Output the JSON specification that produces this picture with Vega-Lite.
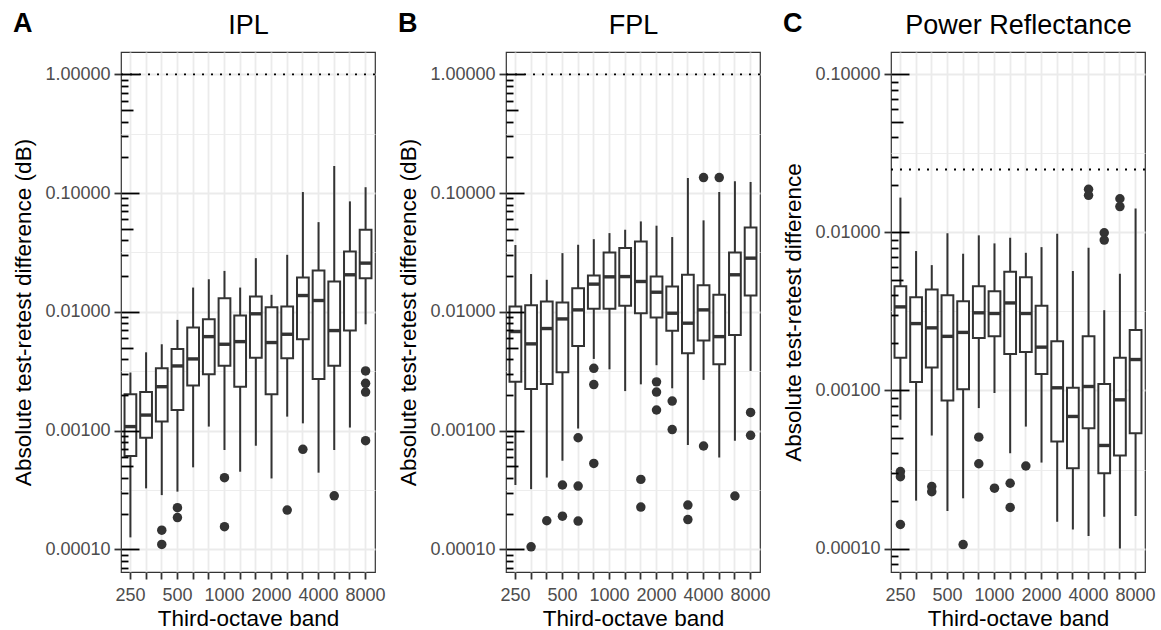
{
  "$schema": "https://vega.github.io/schema/vega-lite/v6.json",
  "background": "white",
  "padding": {"left": 12, "top": 9, "right": 0, "bottom": 0},
  "spacing": 11,
  "config": {
    "font": "Liberation Sans",
    "view": {"stroke": "#333333", "strokeWidth": 1.2},
    "axis": {"labelFont": "Liberation Sans", "titleFont": "Liberation Sans"},
    "title": {"font": "Liberation Sans"}
  },
  "datasets": {
    "stats": [
      {"panel": "IPL", "band": "250", "lo": 0.000126, "q1": 0.00061, "med": 0.00108, "q3": 0.00202, "hi": 0.00308},
      {"panel": "IPL", "band": "315", "lo": 0.000326, "q1": 0.00087, "med": 0.00135, "q3": 0.00211, "hi": 0.00456},
      {"panel": "IPL", "band": "400", "lo": 0.000286, "q1": 0.00119, "med": 0.00234, "q3": 0.00334, "hi": 0.00533},
      {"panel": "IPL", "band": "500", "lo": 0.000306, "q1": 0.00149, "med": 0.0035, "q3": 0.00487, "hi": 0.00855},
      {"panel": "IPL", "band": "630", "lo": 0.00049, "q1": 0.00239, "med": 0.00401, "q3": 0.00737, "hi": 0.016},
      {"panel": "IPL", "band": "800", "lo": 0.00108, "q1": 0.00298, "med": 0.00618, "q3": 0.00866, "hi": 0.0188},
      {"panel": "IPL", "band": "1000", "lo": 0.000686, "q1": 0.00352, "med": 0.00533, "q3": 0.013, "hi": 0.0221},
      {"panel": "IPL", "band": "1250", "lo": 0.00045, "q1": 0.00234, "med": 0.00561, "q3": 0.00931, "hi": 0.016},
      {"panel": "IPL", "band": "1600", "lo": 0.000745, "q1": 0.00411, "med": 0.00962, "q3": 0.01345, "hi": 0.0283},
      {"panel": "IPL", "band": "2000", "lo": 0.000395, "q1": 0.00202, "med": 0.00551, "q3": 0.01094, "hi": 0.0139},
      {"panel": "IPL", "band": "2500", "lo": 0.00131, "q1": 0.00406, "med": 0.00647, "q3": 0.01107, "hi": 0.0302},
      {"panel": "IPL", "band": "3150", "lo": 0.00115, "q1": 0.00587, "med": 0.01371, "q3": 0.01945, "hi": 0.102},
      {"panel": "IPL", "band": "4000", "lo": 0.000442, "q1": 0.00272, "med": 0.01245, "q3": 0.0223, "hi": 0.0569},
      {"panel": "IPL", "band": "5000", "lo": 0.000686, "q1": 0.00352, "med": 0.00695, "q3": 0.018, "hi": 0.169},
      {"panel": "IPL", "band": "6300", "lo": 0.00106, "q1": 0.00695, "med": 0.0205, "q3": 0.0322, "hi": 0.0851},
      {"panel": "IPL", "band": "8000", "lo": 0.00785, "q1": 0.0192, "med": 0.0257, "q3": 0.0491, "hi": 0.112},
      {"panel": "FPL", "band": "250", "lo": 0.000348, "q1": 0.00257, "med": 0.00682, "q3": 0.01107, "hi": 0.0365},
      {"panel": "FPL", "band": "315", "lo": 0.000321, "q1": 0.00224, "med": 0.00537, "q3": 0.01137, "hi": 0.0208},
      {"panel": "FPL", "band": "400", "lo": 0.000402, "q1": 0.00247, "med": 0.00723, "q3": 0.01222, "hi": 0.0186},
      {"panel": "FPL", "band": "500", "lo": 0.000557, "q1": 0.0031, "med": 0.00871, "q3": 0.01198, "hi": 0.0312},
      {"panel": "FPL", "band": "630", "lo": 0.00104, "q1": 0.00516, "med": 0.01038, "q3": 0.01582, "hi": 0.0367},
      {"panel": "FPL", "band": "800", "lo": 0.00401, "q1": 0.01059, "med": 0.0171, "q3": 0.0202, "hi": 0.0409},
      {"panel": "FPL", "band": "1000", "lo": 0.00328, "q1": 0.01059, "med": 0.0197, "q3": 0.0316, "hi": 0.046},
      {"panel": "FPL", "band": "1250", "lo": 0.00215, "q1": 0.01122, "med": 0.0198, "q3": 0.0344, "hi": 0.0491},
      {"panel": "FPL", "band": "1600", "lo": 0.00245, "q1": 0.00973, "med": 0.018, "q3": 0.0391, "hi": 0.0577},
      {"panel": "FPL", "band": "2000", "lo": 0.00355, "q1": 0.00895, "med": 0.01462, "q3": 0.0198, "hi": 0.0531},
      {"panel": "FPL", "band": "2500", "lo": 0.00227, "q1": 0.00691, "med": 0.00973, "q3": 0.0163, "hi": 0.0426},
      {"panel": "FPL", "band": "3150", "lo": 0.000755, "q1": 0.00448, "med": 0.00802, "q3": 0.0205, "hi": 0.134},
      {"panel": "FPL", "band": "4000", "lo": 0.00267, "q1": 0.00573, "med": 0.01038, "q3": 0.0167, "hi": 0.0589},
      {"panel": "FPL", "band": "5000", "lo": 0.000594, "q1": 0.00362, "med": 0.00618, "q3": 0.0139, "hi": 0.102},
      {"panel": "FPL", "band": "6300", "lo": 0.000822, "q1": 0.00639, "med": 0.0205, "q3": 0.0316, "hi": 0.126},
      {"panel": "FPL", "band": "8000", "lo": 0.00318, "q1": 0.01371, "med": 0.0283, "q3": 0.0514, "hi": 0.124},
      {"panel": "PR", "band": "250", "lo": 0.000653, "q1": 0.00161, "med": 0.00338, "q3": 0.00457, "hi": 0.0166},
      {"panel": "PR", "band": "315", "lo": 0.000201, "q1": 0.00113, "med": 0.00265, "q3": 0.00389, "hi": 0.00762},
      {"panel": "PR", "band": "400", "lo": 0.000519, "q1": 0.0014, "med": 0.00249, "q3": 0.00435, "hi": 0.00621},
      {"panel": "PR", "band": "500", "lo": 0.000173, "q1": 0.000865, "med": 0.0022, "q3": 0.00401, "hi": 0.00986},
      {"panel": "PR", "band": "630", "lo": 0.000208, "q1": 0.00102, "med": 0.00233, "q3": 0.00367, "hi": 0.00733},
      {"panel": "PR", "band": "800", "lo": 0.000774, "q1": 0.00215, "med": 0.0031, "q3": 0.00457, "hi": 0.00958},
      {"panel": "PR", "band": "1000", "lo": 0.000964, "q1": 0.0022, "med": 0.00307, "q3": 0.00425, "hi": 0.00852},
      {"panel": "PR", "band": "1250", "lo": 0.000401, "q1": 0.0017, "med": 0.00358, "q3": 0.00564, "hi": 0.00925},
      {"panel": "PR", "band": "1600", "lo": 0.000591, "q1": 0.00175, "med": 0.00307, "q3": 0.00521, "hi": 0.00743},
      {"panel": "PR", "band": "2000", "lo": 0.00035, "q1": 0.00127, "med": 0.00188, "q3": 0.00344, "hi": 0.00807},
      {"panel": "PR", "band": "2500", "lo": 0.000148, "q1": 0.000475, "med": 0.00104, "q3": 0.00205, "hi": 0.00981},
      {"panel": "PR", "band": "3150", "lo": 0.000132, "q1": 0.000322, "med": 0.000685, "q3": 0.00104, "hi": 0.00569},
      {"panel": "PR", "band": "4000", "lo": 0.00012, "q1": 0.000578, "med": 0.00106, "q3": 0.0022, "hi": 0.008},
      {"panel": "PR", "band": "5000", "lo": 0.000159, "q1": 0.0003, "med": 0.000449, "q3": 0.0011, "hi": 0.00322},
      {"panel": "PR", "band": "6300", "lo": 0.0001, "q1": 0.000388, "med": 0.000873, "q3": 0.00161, "hi": 0.00547},
      {"panel": "PR", "band": "8000", "lo": 0.000161, "q1": 0.000537, "med": 0.00157, "q3": 0.00241, "hi": 0.01418}
    ],
    "outliers": [
      {"panel": "IPL", "band": "400", "value": 0.000145},
      {"panel": "IPL", "band": "400", "value": 0.00011},
      {"panel": "IPL", "band": "500", "value": 0.000224},
      {"panel": "IPL", "band": "500", "value": 0.000185},
      {"panel": "IPL", "band": "1000", "value": 0.000401},
      {"panel": "IPL", "band": "1000", "value": 0.000155},
      {"panel": "IPL", "band": "2500", "value": 0.000214},
      {"panel": "IPL", "band": "3150", "value": 0.000695},
      {"panel": "IPL", "band": "5000", "value": 0.000282},
      {"panel": "IPL", "band": "8000", "value": 0.00318},
      {"panel": "IPL", "band": "8000", "value": 0.0025},
      {"panel": "IPL", "band": "8000", "value": 0.00211},
      {"panel": "IPL", "band": "8000", "value": 0.000822},
      {"panel": "FPL", "band": "315", "value": 0.000105},
      {"panel": "FPL", "band": "400", "value": 0.000174},
      {"panel": "FPL", "band": "500", "value": 0.000348},
      {"panel": "FPL", "band": "500", "value": 0.00019},
      {"panel": "FPL", "band": "630", "value": 0.00087},
      {"panel": "FPL", "band": "630", "value": 0.000341},
      {"panel": "FPL", "band": "630", "value": 0.000173},
      {"panel": "FPL", "band": "800", "value": 0.00334},
      {"panel": "FPL", "band": "800", "value": 0.00244},
      {"panel": "FPL", "band": "800", "value": 0.000529},
      {"panel": "FPL", "band": "1600", "value": 0.000388},
      {"panel": "FPL", "band": "1600", "value": 0.000227},
      {"panel": "FPL", "band": "2000", "value": 0.00257},
      {"panel": "FPL", "band": "2000", "value": 0.00211},
      {"panel": "FPL", "band": "2000", "value": 0.00149},
      {"panel": "FPL", "band": "2500", "value": 0.00177},
      {"panel": "FPL", "band": "2500", "value": 0.00102},
      {"panel": "FPL", "band": "3150", "value": 0.000236},
      {"panel": "FPL", "band": "3150", "value": 0.000178},
      {"panel": "FPL", "band": "4000", "value": 0.135},
      {"panel": "FPL", "band": "4000", "value": 0.000741},
      {"panel": "FPL", "band": "5000", "value": 0.135},
      {"panel": "FPL", "band": "6300", "value": 0.000281},
      {"panel": "FPL", "band": "8000", "value": 0.00142},
      {"panel": "FPL", "band": "8000", "value": 0.000912},
      {"panel": "PR", "band": "250", "value": 0.000307},
      {"panel": "PR", "band": "250", "value": 0.000285},
      {"panel": "PR", "band": "250", "value": 0.000142},
      {"panel": "PR", "band": "400", "value": 0.000247},
      {"panel": "PR", "band": "400", "value": 0.000229},
      {"panel": "PR", "band": "630", "value": 0.000106},
      {"panel": "PR", "band": "800", "value": 0.000507},
      {"panel": "PR", "band": "800", "value": 0.000344},
      {"panel": "PR", "band": "1000", "value": 0.000241},
      {"panel": "PR", "band": "1250", "value": 0.000259},
      {"panel": "PR", "band": "1250", "value": 0.000182},
      {"panel": "PR", "band": "1600", "value": 0.000333},
      {"panel": "PR", "band": "4000", "value": 0.01874},
      {"panel": "PR", "band": "4000", "value": 0.01716},
      {"panel": "PR", "band": "5000", "value": 0.00995},
      {"panel": "PR", "band": "5000", "value": 0.00894},
      {"panel": "PR", "band": "6300", "value": 0.01633},
      {"panel": "PR", "band": "6300", "value": 0.01456}
    ],
    "refs": [
      {"panel": "IPL", "ref": 1},
      {"panel": "FPL", "ref": 1},
      {"panel": "PR", "ref": 0.025}
    ]
  },
  "hconcat": [
    {
      "title": {"text": "A", "anchor": "start", "frame": "bounds", "fontSize": 27, "fontWeight": "bold", "color": "black", "offset": -27},
      "width": 254, "height": 520,
      "resolve": {"axis": {"x": "independent", "y": "independent"}},
      "layer": [
        {
          "data": {"name": "stats"}, "transform": [{"filter": "datum.panel === 'IPL'"}],
          "mark": {"type": "rule", "color": "#333333", "strokeWidth": 2},
          "encoding": {
            "x": {"field": "band", "type": "nominal", "scale": {"type": "band", "domain": ["250","315","400","500","630","800","1000","1250","1600","2000","2500","3150","4000","5000","6300","8000"], "paddingInner": 0.25, "paddingOuter": 0.225},
              "axis": {"orient": "bottom", "title": "Third-octave band", "labelExpr": "indexof(['250','500','1000','2000','4000','8000'], datum.label) >= 0 ? datum.label : ''", "labelAngle": 0, "labelFontSize": 18, "labelColor": "#4D4D4D", "labelPadding": 7, "tickSize": 7, "tickColor": "#333333", "tickWidth": 1.8, "domain": false, "grid": true, "gridColor": "#EBEBEB", "gridWidth": 1.8, "titleFontSize": 22.5, "titleFontWeight": "normal", "titleColor": "black", "titlePadding": 3, "zindex": 0}},
            "y": {"field": "lo", "type": "quantitative", "scale": {"type": "log", "domain": [0.0000644, 1.541], "nice": false},
              "axis": {"orient": "left", "values": [0.0001, 0.001, 0.01, 0.1, 1], "format": ".5f", "title": "Absolute test-retest difference (dB)", "grid": true, "gridColor": "#EBEBEB", "gridWidth": 1.8, "domain": false, "tickColor": "#333333", "tickSize": 7, "tickWidth": 1.8, "labelColor": "#4D4D4D", "labelFontSize": 18, "labelPadding": 4, "titleFontSize": 22.5, "titleFontWeight": "normal", "titleColor": "black", "titlePadding": 9, "zindex": 0}},
            "y2": {"field": "hi"}
          }
        },
        {
          "data": {"name": "stats"}, "transform": [{"filter": "datum.panel === 'IPL'"}],
          "mark": {"type": "bar", "fill": "white", "stroke": "#333333", "strokeWidth": 2},
          "encoding": {
            "x": {"field": "band", "type": "nominal", "axis": null},
            "y": {"field": "q1", "type": "quantitative", "axis": {"orient": "left", "values": [0.316228, 0.0316228, 0.00316228, 0.000316228], "grid": true, "gridColor": "#EBEBEB", "gridWidth": 0.9, "ticks": false, "labels": false, "domain": false, "title": null, "zindex": 0}},
            "y2": {"field": "q3"}
          }
        },
        {
          "data": {"name": "stats"}, "transform": [{"filter": "datum.panel === 'IPL'"}],
          "mark": {"type": "tick", "orient": "horizontal", "color": "#333333", "thickness": 3.4, "size": 12, "opacity": 1},
          "encoding": {
            "x": {"field": "band", "type": "nominal", "axis": null},
            "y": {"field": "med", "type": "quantitative", "axis": {"orient": "left", "values": [0.0001, 0.001, 0.01, 0.1, 1], "tickSize": -18, "tickColor": "black", "tickWidth": 1.8, "labels": false, "domain": false, "grid": false, "title": null, "zindex": 1}}
          }
        },
        {
          "data": {"name": "outliers"}, "transform": [{"filter": "datum.panel === 'IPL'"}],
          "mark": {"type": "point", "filled": true, "color": "#333333", "opacity": 1, "size": 90},
          "encoding": {
            "x": {"field": "band", "type": "nominal", "axis": {"orient": "top", "title": "IPL", "labels": false, "ticks": false, "domain": false, "grid": false, "titleFontSize": 27, "titleFontWeight": "normal", "titleColor": "black", "titlePadding": 13}},
            "y": {"field": "value", "type": "quantitative", "axis": {"orient": "left", "values": [0.0005, 0.005, 0.05, 0.5], "tickSize": -12, "tickColor": "black", "tickWidth": 1.8, "labels": false, "domain": false, "grid": false, "title": null, "zindex": 1}}
          }
        },
        {
          "data": {"name": "refs"}, "transform": [{"filter": "datum.panel === 'IPL'"}],
          "mark": {"type": "rule", "color": "black", "strokeDash": [2, 7], "strokeWidth": 1.8},
          "encoding": {
            "y": {"field": "ref", "type": "quantitative", "axis": {"orient": "left", "values": [0.00007, 0.00008, 0.00009, 0.0002, 0.0003, 0.0004, 0.0006, 0.0007, 0.0008, 0.0009, 0.002, 0.003, 0.004, 0.006, 0.007, 0.008, 0.009, 0.02, 0.03, 0.04, 0.06, 0.07, 0.08, 0.09, 0.2, 0.3, 0.4, 0.6, 0.7, 0.8, 0.9], "tickSize": -7, "tickColor": "black", "tickWidth": 1.8, "labels": false, "domain": false, "grid": false, "title": null, "zindex": 1}}
          }
        }
      ]
    },
    {
      "title": {"text": "B", "anchor": "start", "frame": "bounds", "fontSize": 27, "fontWeight": "bold", "color": "black", "offset": -27},
      "width": 254, "height": 520,
      "resolve": {"axis": {"x": "independent", "y": "independent"}},
      "layer": [
        {
          "data": {"name": "stats"}, "transform": [{"filter": "datum.panel === 'FPL'"}],
          "mark": {"type": "rule", "color": "#333333", "strokeWidth": 2},
          "encoding": {
            "x": {"field": "band", "type": "nominal", "scale": {"type": "band", "domain": ["250","315","400","500","630","800","1000","1250","1600","2000","2500","3150","4000","5000","6300","8000"], "paddingInner": 0.25, "paddingOuter": 0.225},
              "axis": {"orient": "bottom", "title": "Third-octave band", "labelExpr": "indexof(['250','500','1000','2000','4000','8000'], datum.label) >= 0 ? datum.label : ''", "labelAngle": 0, "labelFontSize": 18, "labelColor": "#4D4D4D", "labelPadding": 7, "tickSize": 7, "tickColor": "#333333", "tickWidth": 1.8, "domain": false, "grid": true, "gridColor": "#EBEBEB", "gridWidth": 1.8, "titleFontSize": 22.5, "titleFontWeight": "normal", "titleColor": "black", "titlePadding": 3, "zindex": 0}},
            "y": {"field": "lo", "type": "quantitative", "scale": {"type": "log", "domain": [0.0000644, 1.541], "nice": false},
              "axis": {"orient": "left", "values": [0.0001, 0.001, 0.01, 0.1, 1], "format": ".5f", "title": "Absolute test-retest difference (dB)", "grid": true, "gridColor": "#EBEBEB", "gridWidth": 1.8, "domain": false, "tickColor": "#333333", "tickSize": 7, "tickWidth": 1.8, "labelColor": "#4D4D4D", "labelFontSize": 18, "labelPadding": 4, "titleFontSize": 22.5, "titleFontWeight": "normal", "titleColor": "black", "titlePadding": 9, "zindex": 0}},
            "y2": {"field": "hi"}
          }
        },
        {
          "data": {"name": "stats"}, "transform": [{"filter": "datum.panel === 'FPL'"}],
          "mark": {"type": "bar", "fill": "white", "stroke": "#333333", "strokeWidth": 2},
          "encoding": {
            "x": {"field": "band", "type": "nominal", "axis": null},
            "y": {"field": "q1", "type": "quantitative", "axis": {"orient": "left", "values": [0.316228, 0.0316228, 0.00316228, 0.000316228], "grid": true, "gridColor": "#EBEBEB", "gridWidth": 0.9, "ticks": false, "labels": false, "domain": false, "title": null, "zindex": 0}},
            "y2": {"field": "q3"}
          }
        },
        {
          "data": {"name": "stats"}, "transform": [{"filter": "datum.panel === 'FPL'"}],
          "mark": {"type": "tick", "orient": "horizontal", "color": "#333333", "thickness": 3.4, "size": 12, "opacity": 1},
          "encoding": {
            "x": {"field": "band", "type": "nominal", "axis": null},
            "y": {"field": "med", "type": "quantitative", "axis": {"orient": "left", "values": [0.0001, 0.001, 0.01, 0.1, 1], "tickSize": -18, "tickColor": "black", "tickWidth": 1.8, "labels": false, "domain": false, "grid": false, "title": null, "zindex": 1}}
          }
        },
        {
          "data": {"name": "outliers"}, "transform": [{"filter": "datum.panel === 'FPL'"}],
          "mark": {"type": "point", "filled": true, "color": "#333333", "opacity": 1, "size": 90},
          "encoding": {
            "x": {"field": "band", "type": "nominal", "axis": {"orient": "top", "title": "FPL", "labels": false, "ticks": false, "domain": false, "grid": false, "titleFontSize": 27, "titleFontWeight": "normal", "titleColor": "black", "titlePadding": 13}},
            "y": {"field": "value", "type": "quantitative", "axis": {"orient": "left", "values": [0.0005, 0.005, 0.05, 0.5], "tickSize": -12, "tickColor": "black", "tickWidth": 1.8, "labels": false, "domain": false, "grid": false, "title": null, "zindex": 1}}
          }
        },
        {
          "data": {"name": "refs"}, "transform": [{"filter": "datum.panel === 'FPL'"}],
          "mark": {"type": "rule", "color": "black", "strokeDash": [2, 7], "strokeWidth": 1.8},
          "encoding": {
            "y": {"field": "ref", "type": "quantitative", "axis": {"orient": "left", "values": [0.00007, 0.00008, 0.00009, 0.0002, 0.0003, 0.0004, 0.0006, 0.0007, 0.0008, 0.0009, 0.002, 0.003, 0.004, 0.006, 0.007, 0.008, 0.009, 0.02, 0.03, 0.04, 0.06, 0.07, 0.08, 0.09, 0.2, 0.3, 0.4, 0.6, 0.7, 0.8, 0.9], "tickSize": -7, "tickColor": "black", "tickWidth": 1.8, "labels": false, "domain": false, "grid": false, "title": null, "zindex": 1}}
          }
        }
      ]
    },
    {
      "title": {"text": "C", "anchor": "start", "frame": "bounds", "fontSize": 27, "fontWeight": "bold", "color": "black", "offset": -27},
      "width": 254, "height": 520,
      "resolve": {"axis": {"x": "independent", "y": "independent"}},
      "layer": [
        {
          "data": {"name": "stats"}, "transform": [{"filter": "datum.panel === 'PR'"}],
          "mark": {"type": "rule", "color": "#333333", "strokeWidth": 2},
          "encoding": {
            "x": {"field": "band", "type": "nominal", "scale": {"type": "band", "domain": ["250","315","400","500","630","800","1000","1250","1600","2000","2500","3150","4000","5000","6300","8000"], "paddingInner": 0.25, "paddingOuter": 0.225},
              "axis": {"orient": "bottom", "title": "Third-octave band", "labelExpr": "indexof(['250','500','1000','2000','4000','8000'], datum.label) >= 0 ? datum.label : ''", "labelAngle": 0, "labelFontSize": 18, "labelColor": "#4D4D4D", "labelPadding": 7, "tickSize": 7, "tickColor": "#333333", "tickWidth": 1.8, "domain": false, "grid": true, "gridColor": "#EBEBEB", "gridWidth": 1.8, "titleFontSize": 22.5, "titleFontWeight": "normal", "titleColor": "black", "titlePadding": 3, "zindex": 0}},
            "y": {"field": "lo", "type": "quantitative", "scale": {"type": "log", "domain": [0.0000711, 0.1384], "nice": false},
              "axis": {"orient": "left", "values": [0.0001, 0.001, 0.01, 0.1], "format": ".5f", "title": "Absolute test-retest difference", "grid": true, "gridColor": "#EBEBEB", "gridWidth": 1.8, "domain": false, "tickColor": "#333333", "tickSize": 7, "tickWidth": 1.8, "labelColor": "#4D4D4D", "labelFontSize": 18, "labelPadding": 4, "titleFontSize": 22.5, "titleFontWeight": "normal", "titleColor": "black", "titlePadding": 9, "zindex": 0}},
            "y2": {"field": "hi"}
          }
        },
        {
          "data": {"name": "stats"}, "transform": [{"filter": "datum.panel === 'PR'"}],
          "mark": {"type": "bar", "fill": "white", "stroke": "#333333", "strokeWidth": 2},
          "encoding": {
            "x": {"field": "band", "type": "nominal", "axis": null},
            "y": {"field": "q1", "type": "quantitative", "axis": {"orient": "left", "values": [0.0316228, 0.00316228, 0.000316228], "grid": true, "gridColor": "#EBEBEB", "gridWidth": 0.9, "ticks": false, "labels": false, "domain": false, "title": null, "zindex": 0}},
            "y2": {"field": "q3"}
          }
        },
        {
          "data": {"name": "stats"}, "transform": [{"filter": "datum.panel === 'PR'"}],
          "mark": {"type": "tick", "orient": "horizontal", "color": "#333333", "thickness": 3.4, "size": 12, "opacity": 1},
          "encoding": {
            "x": {"field": "band", "type": "nominal", "axis": null},
            "y": {"field": "med", "type": "quantitative", "axis": {"orient": "left", "values": [0.0001, 0.001, 0.01, 0.1], "tickSize": -18, "tickColor": "black", "tickWidth": 1.8, "labels": false, "domain": false, "grid": false, "title": null, "zindex": 1}}
          }
        },
        {
          "data": {"name": "outliers"}, "transform": [{"filter": "datum.panel === 'PR'"}],
          "mark": {"type": "point", "filled": true, "color": "#333333", "opacity": 1, "size": 90},
          "encoding": {
            "x": {"field": "band", "type": "nominal", "axis": {"orient": "top", "title": "Power Reflectance", "labels": false, "ticks": false, "domain": false, "grid": false, "titleFontSize": 27, "titleFontWeight": "normal", "titleColor": "black", "titlePadding": 13}},
            "y": {"field": "value", "type": "quantitative", "axis": {"orient": "left", "values": [0.0005, 0.005, 0.05], "tickSize": -12, "tickColor": "black", "tickWidth": 1.8, "labels": false, "domain": false, "grid": false, "title": null, "zindex": 1}}
          }
        },
        {
          "data": {"name": "refs"}, "transform": [{"filter": "datum.panel === 'PR'"}],
          "mark": {"type": "rule", "color": "black", "strokeDash": [2, 7], "strokeWidth": 1.8},
          "encoding": {
            "y": {"field": "ref", "type": "quantitative", "axis": {"orient": "left", "values": [0.00008, 0.00009, 0.0002, 0.0003, 0.0004, 0.0006, 0.0007, 0.0008, 0.0009, 0.002, 0.003, 0.004, 0.006, 0.007, 0.008, 0.009, 0.02, 0.03, 0.04, 0.06, 0.07, 0.08, 0.09], "tickSize": -7, "tickColor": "black", "tickWidth": 1.8, "labels": false, "domain": false, "grid": false, "title": null, "zindex": 1}}
          }
        }
      ]
    }
  ]
}
